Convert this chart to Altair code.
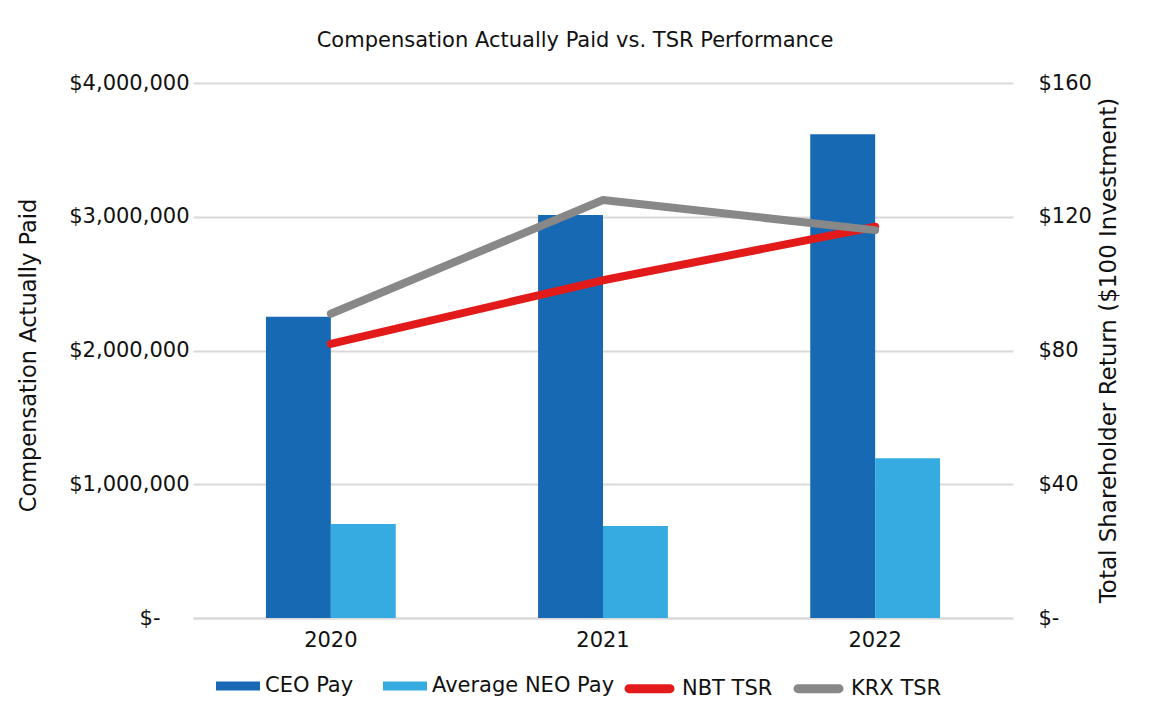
import altair as alt
import pandas as pd

years = ["2020", "2021", "2022"]
ceo_pay = [2253000, 3013000, 3616000]
neo_pay = [703000, 688000, 1194000]
nbt_tsr = [82, 101, 117]
krx_tsr = [91, 125, 116]
bar_series = ["CEO Pay", "Average NEO Pay"]
line_series = ["NBT TSR", "KRX TSR"]
bar_colors = ["#1769B3", "#36ABE2"]
line_colors = ["#E21A1A", "#888888"]
pay_ticks = [0, 1000000, 2000000, 3000000, 4000000]
tsr_ticks = [0, 40, 80, 120, 160]

bars_df = pd.DataFrame({
    "year": years * 2,
    "series": [bar_series[0]] * 3 + [bar_series[1]] * 3,
    "value": ceo_pay + neo_pay,
})
lines_df = pd.DataFrame({
    "year": years * 2,
    "series": [line_series[0]] * 3 + [line_series[1]] * 3,
    "value": nbt_tsr + krx_tsr,
})

FONT = "DejaVu Sans"
GRID = "#D9D9D9"
INK = "#111111"

x_enc = alt.X(
    "year:N", title=None, sort=years,
    scale=alt.Scale(paddingInner=0.523, paddingOuter=0.268),
    axis=alt.Axis(labelAngle=0, labelFont=FONT, labelFontSize=21, labelColor=INK,
                  labelPadding=11, ticks=False, domain=True, domainColor=GRID, domainWidth=2),
)

bars = alt.Chart(bars_df).mark_bar().encode(
    x=x_enc,
    xOffset=alt.XOffset("series:N", sort=bar_series,
                        scale=alt.Scale(domain=bar_series, paddingInner=0, paddingOuter=0)),
    y=alt.Y("value:Q", scale=alt.Scale(domain=[0, 4000000], nice=False),
            axis=alt.Axis(values=pay_ticks, grid=True, gridColor=GRID, gridWidth=2,
                          domain=False, ticks=False,
                          labelExpr="datum.value == 0 ? '$-' : format(datum.value, '$,.0f')",
                          labelFont=FONT, labelFontSize=21, labelColor=INK,
                          labelPadding={"condition": {"test": "datum.value == 0", "value": 33}, "value": 4},
                          title="Compensation Actually Paid", titleFont=FONT, titleFontSize=22.5,
                          titleFontWeight="normal", titleColor=INK,
                          titleAngle=270, titleX=-165, titleY=272, titleAlign="center",
                          titleBaseline="middle")),
    fill=alt.Fill("series:N", scale=alt.Scale(domain=bar_series, range=bar_colors),
                  legend=alt.Legend(title=None, orient="none", direction="horizontal",
                                    legendX=23, legendY=581, padding=0,
                                    symbolType="M-1,-0.2045H1V0.2045H-1Z", symbolSize=1936,
                                    symbolStrokeWidth=0, labelOffset=5, columnPadding=29,
                                    labelLimit=400,
                                    labelFont=FONT, labelFontSize=21, labelColor=INK)),
)

y_right = alt.Y("value:Q", scale=alt.Scale(domain=[0, 160], nice=False),
                axis=alt.Axis(orient="right", values=tsr_ticks, grid=False, domain=False, ticks=False,
                              labelExpr="datum.value == 0 ? '$-' : '$' + format(datum.value, 'd')",
                              labelAlign="left", labelPadding=25,
                              labelFont=FONT, labelFontSize=21, labelColor=INK,
                              title="Total Shareholder Return ($100 Investment)", titleFont=FONT,
                              titleFontSize=23, titleFontWeight="normal", titleColor=INK,
                              titleAngle=270, titleX=95, titleY=267, titleAlign="center",
                              titleBaseline="middle"))
stadium = ("M-0.82,-0.09H0.82A0.09,0.09 0 0 1 0.82,0.09H-0.82"
           "A0.09,0.09 0 0 1 -0.82,-0.09Z")
stroke_enc = alt.Stroke("series:N", scale=alt.Scale(domain=line_series, range=line_colors),
                        legend=alt.Legend(title=None, orient="none", direction="horizontal",
                                          legendX=429, legendY=578, padding=0,
                                          symbolType=stadium, symbolSize=2500, symbolStrokeWidth=4.5,
                                          labelOffset=5, columnPadding=13, labelLimit=400,
                                          labelFont=FONT, labelFontSize=21, labelColor=INK))

line_base = alt.Chart(lines_df).mark_line(strokeWidth=8, strokeCap="round", strokeJoin="round")
nbt = line_base.transform_filter(alt.datum.series == line_series[0]).encode(
    x=alt.X("year:N", sort=years), y=y_right, stroke=stroke_enc)
krx = line_base.transform_filter(alt.datum.series == line_series[1]).encode(
    x=alt.X("year:N", sort=years), y=y_right, stroke=stroke_enc)
lines = alt.layer(nbt, krx)

chart = alt.layer(bars, lines).resolve_scale(y="independent").properties(
    width=820, height=535,
    background="white",
    autosize=alt.AutoSizeParams(type="none"),
    padding={"left": 185, "top": 75, "right": 129, "bottom": 94},
    title=alt.TitleParams("Compensation Actually Paid vs. TSR Performance", font=FONT,
                          fontSize=21, fontWeight="normal", color=INK, anchor="middle",
                          dx=-28, offset=21),
).configure_view(strokeWidth=0, stroke="transparent")

chart.save("out.html", embed_options={"renderer": "svg", "actions": False})
